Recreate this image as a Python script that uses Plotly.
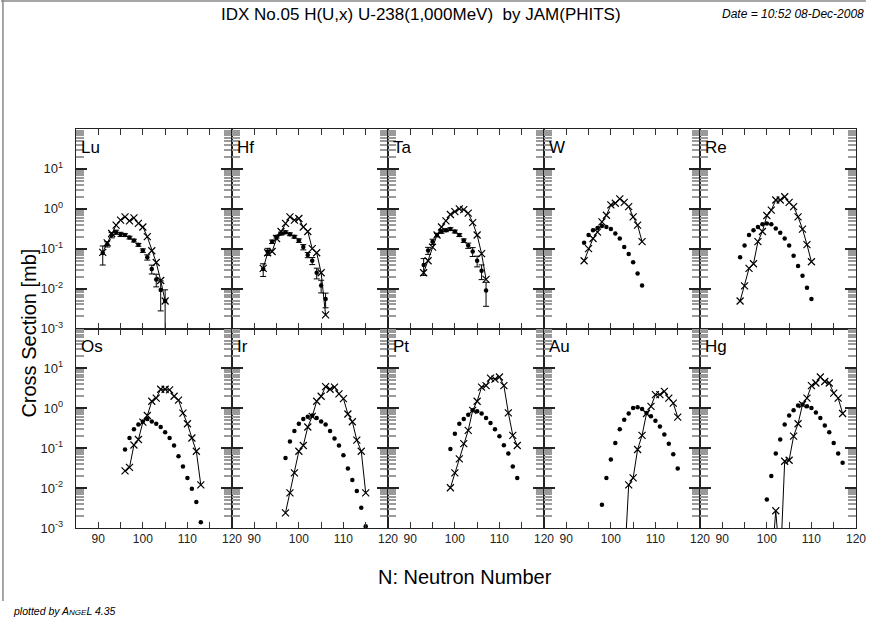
import plotly.graph_objects as go
from plotly.subplots import make_subplots

FONT = "Liberation Sans, Arial, sans-serif"

elements = ["Lu", "Hf", "Ta", "W", "Re", "Os", "Ir", "Pt", "Au", "Hg"]

# ---- experimental (dots) ----
lu_exp_n = list(range(91, 106))
lu_exp = [0.078, 0.13, 0.22, 0.26, 0.23, 0.22, 0.19, 0.16, 0.125, 0.09, 0.061, 0.031, 0.017, 0.0092, 0.0049]
lu_err = [0.5, 0.15, 0.15, 0.12, 0.12, 0.08, 0.08, 0.08, 0.08, 0.1, 0.15, 0.25, 0.35, 0.7, 0.9]

hf_exp_n = list(range(92, 107))
hf_exp = [0.031, 0.085, 0.15, 0.20, 0.24, 0.26, 0.23, 0.20, 0.16, 0.11, 0.07, 0.05, 0.025, 0.012, 0.0055]
hf_err = [0.35, 0.2, 0.1, 0.08, 0.08, 0.08, 0.08, 0.08, 0.1, 0.15, 0.15, 0.2, 0.3, 0.35, 0.4]

ta_exp_n = list(range(93, 108))
ta_exp = [0.039, 0.09, 0.15, 0.22, 0.27, 0.29, 0.31, 0.27, 0.22, 0.16, 0.12, 0.085, 0.05, 0.028, 0.009]
ta_err = [0.45, 0.2, 0.15, 0.1, 0.1, 0.08, 0.08, 0.08, 0.08, 0.1, 0.15, 0.25, 0.3, 0.4, 0.6]

w_exp_n = list(range(94, 108))
w_exp = [0.14, 0.22, 0.29, 0.33, 0.37, 0.35, 0.31, 0.24, 0.18, 0.11, 0.074, 0.046, 0.024, 0.012]

re_exp_n = list(range(94, 111))
re_exp = [0.061, 0.12, 0.22, 0.29, 0.35, 0.41, 0.43, 0.41, 0.32, 0.25, 0.18, 0.12, 0.067, 0.037, 0.021, 0.0105, 0.0055]

os_exp_n = list(range(96, 114))
os_exp = [0.093, 0.18, 0.30, 0.39, 0.47, 0.54, 0.47, 0.41, 0.34, 0.25, 0.18, 0.117, 0.063, 0.035, 0.018, 0.0096, 0.0045, 0.0014]

ir_exp_n = list(range(97, 116))
ir_exp = [0.057, 0.147, 0.27, 0.41, 0.54, 0.61, 0.66, 0.57, 0.47, 0.39, 0.27, 0.175, 0.117, 0.067, 0.031, 0.016, 0.0084, 0.0032, 0.0011]

pt_exp_n = list(range(99, 115))
pt_exp = [0.096, 0.23, 0.41, 0.54, 0.69, 0.89, 0.84, 0.74, 0.57, 0.43, 0.30, 0.20, 0.119, 0.074, 0.035, 0.018]

au_exp_n = list(range(98, 116))
au_exp = [0.0038, 0.018, 0.052, 0.135, 0.30, 0.52, 0.74, 1.02, 1.07, 0.96, 0.76, 0.63, 0.49, 0.35, 0.22, 0.13, 0.071, 0.031]

hg_exp_n = list(range(100, 118))
hg_exp = [0.0052, 0.02, 0.074, 0.165, 0.39, 0.66, 0.89, 1.17, 1.24, 1.12, 1.02, 0.79, 0.57, 0.37, 0.25, 0.135, 0.074, 0.043]

# ---- JAM(PHITS) calculation (x marks + line); 1e-4 = zero (below axis) ----
lu_calc_n = list(range(91, 106))
lu_calc = [0.081, 0.14, 0.24, 0.39, 0.52, 0.63, 0.50, 0.59, 0.43, 0.35, 0.20, 0.089, 0.045, 0.016, 0.0049]

hf_calc_n = list(range(92, 107))
hf_calc = [0.032, 0.079, 0.085, 0.18, 0.27, 0.43, 0.63, 0.52, 0.57, 0.35, 0.27, 0.10, 0.079, 0.025, 0.0022]

ta_calc_n = list(range(93, 108))
ta_calc = [0.025, 0.05, 0.11, 0.22, 0.35, 0.50, 0.72, 0.85, 1.0, 0.95, 0.78, 0.45, 0.22, 0.075, 0.017]

w_calc_n = list(range(94, 108))
w_calc = [0.050, 0.10, 0.18, 0.26, 0.47, 0.69, 1.25, 1.38, 1.78, 1.45, 1.13, 0.63, 0.39, 0.15]

re_calc_n = list(range(94, 111))
re_calc = [0.0049, 0.0117, 0.032, 0.042, 0.15, 0.27, 0.68, 0.93, 1.66, 1.66, 2.0, 1.45, 1.13, 0.63, 0.31, 0.126, 0.047]

os_calc_n = list(range(96, 114))
os_calc = [0.027, 0.033, 0.12, 0.165, 0.45, 0.66, 1.5, 1.8, 3.0, 3.0, 2.9, 2.0, 1.6, 0.76, 0.41, 0.18, 0.084, 0.012]

ir_calc_n = list(range(97, 116))
ir_calc = [0.0024, 0.0076, 0.024, 0.084, 0.117, 0.34, 0.63, 1.5, 2.0, 3.5, 3.0, 3.4, 2.3, 1.75, 0.72, 0.46, 0.16, 0.084, 0.0076]

pt_calc_n = list(range(99, 115))
pt_calc = [0.0102, 0.024, 0.054, 0.13, 0.28, 0.89, 1.5, 3.4, 3.7, 5.7, 5.4, 6.1, 3.7, 0.77, 0.21, 0.117]

au_calc_n = list(range(103, 116))
au_calc = [1e-4, 0.012, 0.018, 0.093, 0.21, 0.74, 1.12, 2.2, 2.2, 2.66, 1.8, 1.35, 0.6]

hg_calc_n = list(range(101, 118))
hg_calc = [1e-4, 0.0027, 1e-4, 0.047, 0.05, 0.2, 0.41, 1.24, 1.8, 3.7, 4.3, 6.1, 4.7, 4.3, 2.4, 1.8, 0.74]

y_tickvals = [1e-3, 1e-2, 1e-1, 1, 10]
y_ticktext = ["10<sup>-3</sup>", "10<sup>-2</sup>", "10<sup>-1</sup>", "10<sup>0</sup>", "10<sup>1</sup>"]

panels = [
    (lu_exp_n, lu_exp, lu_err, lu_calc_n, lu_calc),
    (hf_exp_n, hf_exp, hf_err, hf_calc_n, hf_calc),
    (ta_exp_n, ta_exp, ta_err, ta_calc_n, ta_calc),
    (w_exp_n, w_exp, None, w_calc_n, w_calc),
    (re_exp_n, re_exp, None, re_calc_n, re_calc),
    (os_exp_n, os_exp, None, os_calc_n, os_calc),
    (ir_exp_n, ir_exp, None, ir_calc_n, ir_calc),
    (pt_exp_n, pt_exp, None, pt_calc_n, pt_calc),
    (au_exp_n, au_exp, None, au_calc_n, au_calc),
    (hg_exp_n, hg_exp, None, hg_calc_n, hg_calc),
]

fig = make_subplots(rows=2, cols=5, horizontal_spacing=0, vertical_spacing=0)

for i, (en, ev, er, cn, cv) in enumerate(panels):
    r, c = i // 5 + 1, i % 5 + 1
    fig.add_trace(go.Scatter(
        x=cn, y=cv, mode="lines+markers",
        line=dict(color="black", width=1),
        marker=dict(symbol="x-thin", size=7, line=dict(width=1.2, color="black")),
        showlegend=False, hoverinfo="x+y"), row=r, col=c)
    ed = None
    if er is not None:
        ed = dict(type="data", symmetric=False,
                  array=[v * e for v, e in zip(ev, er)],
                  arrayminus=[v * e for v, e in zip(ev, er)],
                  color="black", thickness=1, width=3)
    fig.add_trace(go.Scatter(
        x=en, y=ev, mode="markers",
        marker=dict(symbol="circle", size=4.5, color="black"),
        error_y=ed, showlegend=False, hoverinfo="x+y"), row=r, col=c)

    axn = "" if i == 0 else str(i + 1)
    fig.add_annotation(text=elements[i], xref=f"x{axn} domain", yref=f"y{axn} domain",
                       x=0.02, y=0.965, xanchor="left", yanchor="top", showarrow=False,
                       font=dict(size=17, family=FONT, color="black"))

fig.update_xaxes(range=[85, 120], tick0=90, dtick=10, ticks="inside", ticklen=6, tickwidth=1,
                 tickcolor="#333",
                 minor=dict(dtick=5, tick0=90, ticks="inside", ticklen=6, tickcolor="#333"),
                 showline=True, linecolor="#222", linewidth=1, mirror="ticks",
                 showgrid=False, zeroline=False,
                 tickfont=dict(size=12, family=FONT, color="#222"))
fig.update_xaxes(showticklabels=False, row=1)

# data axes: decade ticks + gray minor ticks, no labels
fig.update_yaxes(type="log", range=[-3, 2], tickmode="linear", tick0=0, dtick=1,
                 ticks="inside", ticklen=11, tickwidth=1.5, tickcolor="#222",
                 minor=dict(ticks="inside", ticklen=8, tickwidth=1.5, tickcolor="#9a9a9a", dtick="D1",
                            showgrid=False),
                 showline=True, linecolor="#222", linewidth=1, mirror="ticks",
                 showgrid=False, zeroline=False, showticklabels=False)

# label axes (first column only) overlaid on the data axes
for k in (1, 6):
    base = "" if k == 1 else str(k)
    ov = 10 + k
    fig.update_layout(**{f"yaxis{ov}": dict(
        overlaying=f"y{base}", anchor=f"x{base}", side="left", type="log", range=[-3, 2],
        tickmode="array", tickvals=y_tickvals, ticktext=y_ticktext, ticks="",
        ticklabelstandoff=12,
        showline=False, showgrid=False, zeroline=False,
        tickfont=dict(size=13, family=FONT, color="#222"))})
    fig.add_trace(go.Scatter(x=[None], y=[None], xaxis=f"x{base}", yaxis=f"y{ov}",
                             mode="markers", showlegend=False, hoverinfo="skip"))

W, H = 876, 622
L, R, T, B = 76, 10, 129, 94
pw, ph = W - L - R, H - T - B


def px(xp):
    return (xp - L) / pw


def py(yp):
    return (H - B - yp) / ph


fig.add_annotation(text="IDX No.05 H(U,x) U-238(1,000MeV)  by JAM(PHITS)", xref="paper", yref="paper",
                   x=px(425), y=py(15), xanchor="center", yanchor="middle", showarrow=False,
                   font=dict(size=17, family=FONT, color="black"))
fig.add_annotation(text="<i>Date = 10:52 08-Dec-2008</i>", xref="paper", yref="paper",
                   x=px(728), y=py(14), xanchor="left", yanchor="middle", showarrow=False,
                   font=dict(size=12, family=FONT, color="black"))
fig.add_annotation(text="<i>plotted by A<span style='font-size:8px'>NGE</span>L 4.35</i>", xref="paper", yref="paper",
                   x=px(10), y=py(611), xanchor="left", yanchor="middle", showarrow=False,
                   font=dict(size=10.5, family=FONT, color="black"))
fig.add_annotation(text="Cross Section [mb]", xref="paper", yref="paper",
                   x=px(28), y=py(333), xanchor="center", yanchor="middle", showarrow=False,
                   textangle=-90, font=dict(size=20, family=FONT, color="black"))
fig.add_annotation(text="N: Neutron Number", xref="paper", yref="paper",
                   x=px(470), y=py(577), xanchor="center", yanchor="middle", showarrow=False,
                   font=dict(size=20, family=FONT, color="black"))

fig.add_shape(type="line", xref="paper", yref="paper", x0=px(2), x1=px(2), y0=py(0), y1=py(601),
              line=dict(color="#888", width=1.5))
fig.add_shape(type="line", xref="paper", yref="paper", x0=px(0), x1=px(876), y0=py(1), y1=py(1),
              line=dict(color="#888", width=1.5))

fig.update_layout(width=W, height=H, margin=dict(l=L, r=R, t=T, b=B),
                  plot_bgcolor="white", paper_bgcolor="white",
                  font=dict(family=FONT, color="black"))

fig.write_html("out.html")
